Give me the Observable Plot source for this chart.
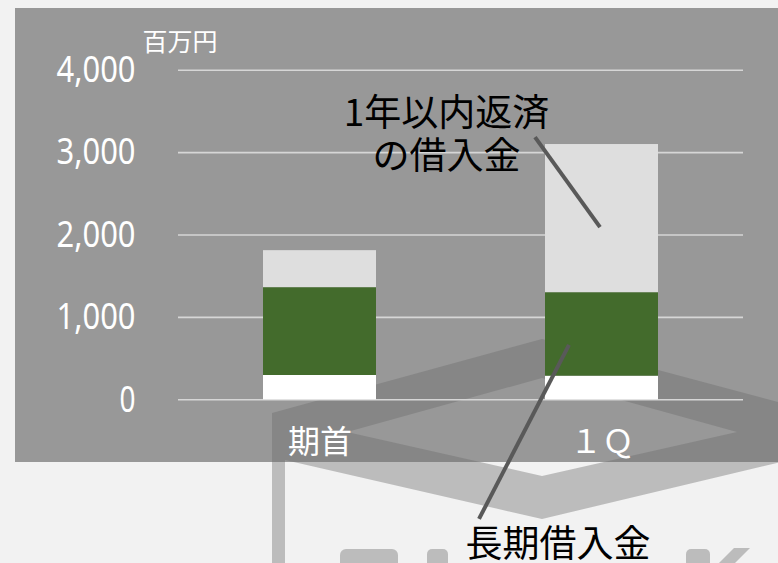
<!DOCTYPE html>
<html>
<head>
<meta charset="utf-8">
<script src="https://cdn.jsdelivr.net/npm/d3@7"></script>
<script src="https://cdn.jsdelivr.net/npm/@observablehq/plot@0.6"></script>
<style>
  html, body { margin: 0; padding: 0; }
  body { width: 778px; height: 563px; background: #f2f2f2; position: relative; overflow: hidden;
         font-family: "Noto Sans CJK JP", "Noto Sans", sans-serif; }
  #panel { position: absolute; left: 15px; top: 8px; width: 763px; height: 454px; background: #989898; }
  #mark { position: absolute; left: 0; top: 0; }
  #chart { position: absolute; left: 0; top: 0; }
</style>
</head>
<body>
<div id="panel"></div>
<svg id="mark" width="778" height="563" viewBox="0 0 778 563">
  <g fill="rgba(108,108,108,0.40)">
    <path fill-rule="evenodd" d="M272,413 L542,339 L898,434 L542,519 L285,460 L285,600 L272,600 Z M347,432 L542,378 L737,432 L542,476 Z"/>
    <rect x="340" y="549" width="58" height="24" rx="6"/>
    <rect x="427" y="549" width="21" height="24" rx="5"/>
    <rect x="686" y="549" width="24" height="24" rx="5"/>
    <polygon points="716,566 734,548 750,548 732,566"/>
  </g>
</svg>
<div id="chart"></div>
<script>
// ---- data ----
const categories = ["期首", "１Ｑ"];
const seriesNames = ["その他", "長期借入金", "1年以内返済の借入金"];
const otherValues = [295, 287];
const longTermValues = [1066, 1013];
const currentValues = [449, 1798];
const seriesColors = ["#ffffff", "#436b2c", "#dedede"];
const yTicks = [0, 1000, 2000, 3000, 4000];
const unitLabel = "百万円";
const upperNote = "1年以内返済\nの借入金";
const lowerNote = "長期借入金";
// leader anchor points on the 1Q bar (category, value)
const leaderCategory = "１Ｑ";
const leaderValues = [2090, 660];

const valueSets = [otherValues, longTermValues, currentValues];
const rows = [];
seriesNames.forEach((s, si) => {
  categories.forEach((c, ci) => rows.push({category: c, series: s, value: valueSets[si][ci]}));
});

const CJK = '"Noto Sans CJK JP", "Noto Sans", sans-serif';
const NUM = '"Noto Sans", "Open Sans", sans-serif';

function leaders(index, scales) {
  const x = scales.x, y = scales.y;
  const cx = x(leaderCategory) + (x.bandwidth ? x.bandwidth() / 2 : 0);
  const g = d3.create("svg:g").attr("stroke", "#595959").attr("stroke-width", 4).attr("fill", "none");
  const p1 = [cx - 1.5, y(leaderValues[0])];
  g.append("line").attr("x1", p1[0]).attr("y1", p1[1]).attr("x2", p1[0] - 65).attr("y2", p1[1] - 90);
  const p2 = [cx - 32.5, y(leaderValues[1])];
  g.append("line").attr("x1", p2[0]).attr("y1", p2[1]).attr("x2", p2[0] - 90).attr("y2", p2[1] + 174);
  return g.node();
}

const chart = Plot.plot({
  width: 778,
  height: 563,
  marginLeft: 178,
  marginRight: 35,
  marginTop: 69.7,
  marginBottom: 163.7,
  style: {background: "transparent", overflow: "visible", fontFamily: CJK},
  x: {domain: categories, paddingInner: 0.6, paddingOuter: 0.3, axis: null},
  y: {domain: [0, 4000], axis: null},
  color: {domain: seriesNames, range: seriesColors},
  marks: [
    Plot.gridY(yTicks, {stroke: "#d6d6d6", strokeOpacity: 1, strokeWidth: 1.6}),
    Plot.axisY(yTicks, {tickSize: 0, tickPadding: 43, fontSize: 37, fill: "#ffffff",
      fontFamily: NUM, tickFormat: d3.format(","), label: null}),
    Plot.barY(rows, Plot.stackY({x: "category", y: "value", fill: "series"})),
    Plot.axisX({tickSize: 0, tickPadding: 30, fontSize: 32, fill: "#ffffff", fontFamily: CJK, label: null}),
    Plot.text([unitLabel], {text: d => d, frameAnchor: "top-left", dx: -36, dy: -27,
      textAnchor: "start", lineAnchor: "middle", fontSize: 25, fill: "#ffffff", fontFamily: CJK}),
    leaders,
    Plot.text([upperNote], {text: d => d, frameAnchor: "top-left", dx: 268, dy: 63.3,
      textAnchor: "middle", lineAnchor: "middle", lineHeight: 1.18, fontSize: 37, fill: "#000000", fontFamily: CJK}),
    Plot.text([lowerNote], {text: d => d, frameAnchor: "top-left", dx: 379.5, dy: 474.5,
      textAnchor: "middle", lineAnchor: "middle", fontSize: 37, fill: "#000000", fontFamily: CJK})
  ]
});
document.getElementById("chart").appendChild(chart);

// narrow the numeric tick labels to match the condensed face of the original
d3.select(chart).selectAll("text")
  .filter(function () { return /^[0-9,]+$/.test(this.textContent.trim()); })
  .each(function () {
    const s = this.textContent.trim();
    const digits = (s.match(/[0-9]/g) || []).length;
    const commas = (s.match(/,/g) || []).length;
    const target = digits * 16 + commas * 15;
    this.setAttribute("textLength", target);
    this.setAttribute("lengthAdjust", "spacingAndGlyphs");
  });
</script>
</body>
</html>
